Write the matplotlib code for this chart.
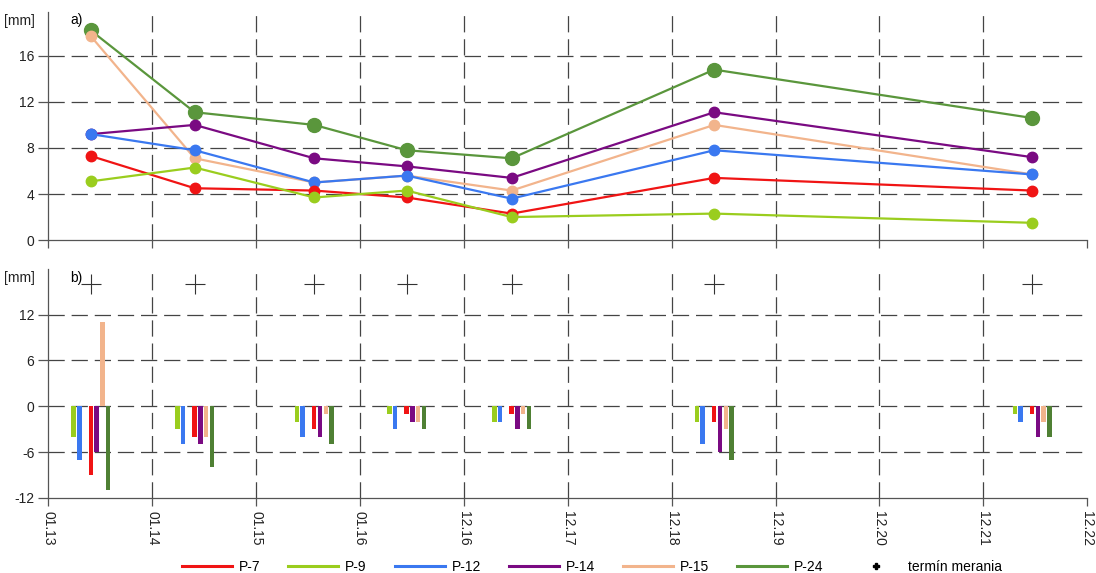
import matplotlib
matplotlib.use("Agg")
import matplotlib.pyplot as plt
from matplotlib.lines import Line2D
from matplotlib import font_manager
import numpy as np

# Font: narrow sans if available
_names = {f.name for f in font_manager.fontManager.ttflist}
FONT = "Liberation Sans Narrow" if "Liberation Sans Narrow" in _names else "Liberation Sans"
plt.rcParams["font.family"] = [FONT, "DejaVu Sans"]
plt.rcParams["axes.unicode_minus"] = False

# ---- data ----
tick_labels = ["01.13", "01.14", "01.15", "01.16", "12.16", "12.17",
               "12.18", "12.19", "12.20", "12.21", "12.22"]
# measurement epochs, expressed on the tick scale
x_meas = [0.41, 1.41, 2.56, 3.45, 4.46, 6.41, 9.47]

series = ["P-7", "P-9", "P-12", "P-14", "P-15", "P-24"]
colors = {"P-7": "#f01414", "P-9": "#9acd1e", "P-12": "#3a78f0",
          "P-14": "#7a0a82", "P-15": "#f2b48c", "P-24": "#5a963c"}

# a) cumulative values [mm]
p7 = [7.3, 4.5, 4.3, 3.7, 2.3, 5.4, 4.3]
p9 = [5.1, 6.3, 3.7, 4.3, 2.0, 2.3, 1.5]
p12 = [9.2, 7.8, 5.0, 5.6, 3.6, 7.8, 5.7]
p14 = [9.2, 10.0, 7.1, 6.4, 5.4, 11.1, 7.2]
p15 = [17.7, 7.1, 5.0, 5.6, 4.3, 10.0, 5.7]
p24 = [18.2, 11.1, 10.0, 7.8, 7.1, 14.8, 10.6]
top_vals = {"P-7": p7, "P-9": p9, "P-12": p12, "P-14": p14, "P-15": p15, "P-24": p24}

# b) per-epoch values [mm]
b7 = [-9, -4, -3, -1, -1, -2, -1]
b9 = [-4, -3, -2, -1, -2, -2, -1]
b12 = [-7, -5, -4, -3, -2, -5, -2]
b14 = [-6, -5, -4, -2, -3, -6, -4]
b15 = [11, -4, -1, -2, -1, -3, -2]
b24 = [-11, -8, -5, -3, -3, -7, -4]
bar_vals = {"P-7": b7, "P-9": b9, "P-12": b12, "P-14": b14, "P-15": b15, "P-24": b24}

cross_level = 16

# ---- figure ----
fig = plt.figure(figsize=(10.96, 5.73), dpi=100)
L, W = 0.044, 0.948
ax1 = fig.add_axes([L, 0.581, W, 0.398])
ax2 = fig.add_axes([L, 0.131, W, 0.400])

grid_kw = dict(color="#444444", lw=0.9, dashes=(13, 5.5))
xt = np.arange(len(tick_labels))
FS = 10

for ax, ylim, yticks in [(ax1, (0, 19.8), [0, 4, 8, 12, 16]),
                         (ax2, (-12, 18), [-12, -6, 0, 6, 12])]:
    ax.set_xlim(0, len(tick_labels) - 1)
    ax.set_ylim(*ylim)
    ax.set_yticks(yticks)
    ax.set_xticks(xt)
    for s in ["top", "right"]:
        ax.spines[s].set_visible(False)
    for s in ["left", "bottom"]:
        ax.spines[s].set_color("#555555")
        ax.spines[s].set_linewidth(0.9)
    for y in yticks[1:]:
        ax.axhline(y, zorder=0, **grid_kw)
    for x in xt[1:-1]:
        ax.axvline(x, zorder=0, **grid_kw)
    ax.tick_params(axis="y", direction="out", length=7, width=0.9,
                   color="#555555", labelsize=FS, pad=3, labelcolor="#222222")
    ax.tick_params(axis="x", direction="out", length=6, width=0.9,
                   color="#555555", labelsize=FS)
    ax.text(-0.0125, 0.99, "[mm]", transform=ax.transAxes, ha="right",
            va="top", fontsize=FS, color="#222222")

ax1.set_xticklabels([])
ax2.set_xticklabels(tick_labels, rotation=-90, color="#222222")

ax1.text(0.021, 0.995, "a)", transform=ax1.transAxes, va="top", fontsize=FS)
ax2.text(0.021, 0.99, "b)", transform=ax2.transAxes, va="top", fontsize=FS)

# a) lines with markers
draw_order = ["P-24", "P-15", "P-14", "P-12", "P-7", "P-9"]
for name in draw_order:
    ms = 10 if name == "P-24" else 7.5
    ax1.plot(x_meas, top_vals[name], color=colors[name], lw=1.6,
             marker="o", ms=ms, zorder=3)

# b) grouped bars; slot -1 left empty
slots = {"P-9": -3, "P-12": -2, "P-7": 0, "P-14": 1, "P-15": 2, "P-24": 3}
slot_w = 0.0555
bar_w = 0.043
xm = np.array(x_meas)
for name in series:
    bc = "#4f8034" if name == "P-24" else colors[name]
    ax2.bar(xm + slots[name] * slot_w, bar_vals[name], width=bar_w,
            color=bc, zorder=3)
ax2.plot(x_meas, [cross_level] * len(x_meas), ls="none", marker="+",
         ms=15, mew=0.8, color="#333333", zorder=3)

# legend
handles = [Line2D([], [], color=colors[n], lw=2.2) for n in series]
handles.append(Line2D([], [], ls="none", marker="P", ms=5, color="black"))
labels = series + ["termín merania"]
fig.legend(handles, labels, loc="center", bbox_to_anchor=(0.54, 0.011),
           ncol=7, frameon=False, fontsize=FS, handlelength=3.6,
           columnspacing=2.0, handletextpad=0.5)

fig.savefig("out.png", dpi=100)
